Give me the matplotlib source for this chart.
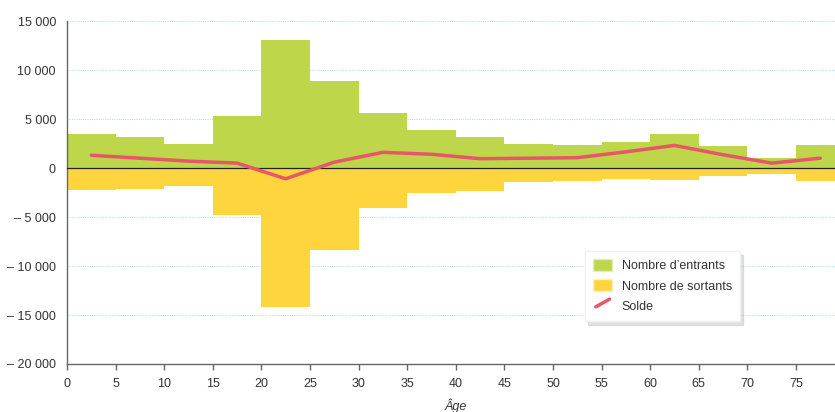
import numpy as np
import matplotlib
matplotlib.use("Agg")
from matplotlib import pyplot as plt
from matplotlib.lines import Line2D
from matplotlib.patches import Patch
from matplotlib.legend_handler import HandlerBase

# Tranches d'âge (bord gauche, largeur 5 ans)
ages = [0, 5, 10, 15, 20, 25, 30, 35, 40, 45, 50, 55, 60, 65, 70, 75]
entrants = [3500, 3200, 2500, 5300, 13100, 8900, 5600, 3900,
            3200, 2400, 2350, 2700, 3500, 2200, 1050, 2300]
sortants = [-2200, -2150, -1800, -4800, -14200, -8350, -4100, -2600,
            -2300, -1450, -1350, -1100, -1200, -850, -600, -1350]
solde = [1300, 1000, 700, 500, -1100, 600, 1600, 1400,
         950, 1000, 1050, 1650, 2300, 1350, 500, 1000]

x_ticks = list(range(0, 80, 5))
y_ticks = list(range(-20000, 15001, 5000))

VERT = "#BED64A"
JAUNE = "#FFD53D"
ROUGE = "#E8566A"


class HandlerDiagonale(HandlerBase):
    # Trait en diagonale dans la légende
    def create_artists(self, legend, orig_handle, xdescent, ydescent,
                       width, height, fontsize, trans):
        ligne = Line2D([xdescent + 2, width - 2],
                       [ydescent + 0.15 * height, 0.95 * height],
                       color=orig_handle.get_color(),
                       lw=orig_handle.get_linewidth(),
                       solid_capstyle="round", transform=trans)
        return [ligne]


def format_y(v):
    txt = f"{abs(v):,}".replace(",", " ")
    return f"– {txt}" if v < 0 else txt


plt.rcParams["font.family"] = ["Liberation Sans", "DejaVu Sans"]
plt.rcParams["font.size"] = 9

fig = plt.figure(figsize=(8.35, 4.12), dpi=100)
ax = fig.add_axes([67 / 835, 48 / 412, 777.6 / 835, 343 / 412])

ax.bar(ages, entrants, width=5, align="edge", color=VERT,
       linewidth=0, zorder=2)
ax.bar(ages, sortants, width=5, align="edge", color=JAUNE,
       linewidth=0, zorder=2)

milieux = [a + 2.5 for a in ages]
ax.plot(milieux, solde, color=ROUGE, lw=2.5, zorder=4,
        solid_capstyle="round")

ax.axhline(0, color="#222222", lw=0.9, zorder=3)

ax.set_xlim(0, 80)
ax.set_ylim(-20000, 15000)
ax.set_xticks(x_ticks)
ax.set_yticks(y_ticks)
ax.set_yticklabels([format_y(v) for v in y_ticks])

for y in y_ticks[1:]:
    if y != 0:
        ax.axhline(y, color="#B8E0F5", lw=0.8, ls=(0, (1, 1)), zorder=1)

for side in ["top", "right"]:
    ax.spines[side].set_visible(False)
ax.spines["left"].set_color("#666666")
ax.spines["bottom"].set_color("#666666")
ax.spines["left"].set_linewidth(1.0)
ax.spines["bottom"].set_linewidth(1.0)
ax.tick_params(axis="y", length=0, pad=8, colors="#333333")
ax.tick_params(axis="x", length=4, width=1, color="#666666",
               pad=6, labelcolor="#333333")

ax.set_xlabel("Âge", style="italic", color="#333333", labelpad=6)

poignees = [
    Patch(facecolor=VERT, edgecolor="#E4EDB8"),
    Patch(facecolor=JAUNE, edgecolor="#FFF0B8"),
    Line2D([], [], color=ROUGE, lw=2.5),
]
etiquettes = ["Nombre d’entrants", "Nombre de sortants", "Solde"]
leg = ax.legend(poignees, etiquettes, loc="upper left",
                bbox_to_anchor=(0.666, 0.33), borderaxespad=0,
                frameon=True, fancybox=False,
                shadow={"color": "0.75", "alpha": 0.45, "ox": 2, "oy": -3},
                edgecolor="#F0F0F0", framealpha=1, borderpad=0.65,
                handlelength=1.55, handleheight=1.05, labelspacing=0.6,
                handletextpad=0.75, fontsize=9,
                handler_map={Line2D: HandlerDiagonale()})
leg.set_zorder(6)
for t in leg.get_texts():
    t.set_color("#333333")

fig.savefig("out.png", dpi=100)
